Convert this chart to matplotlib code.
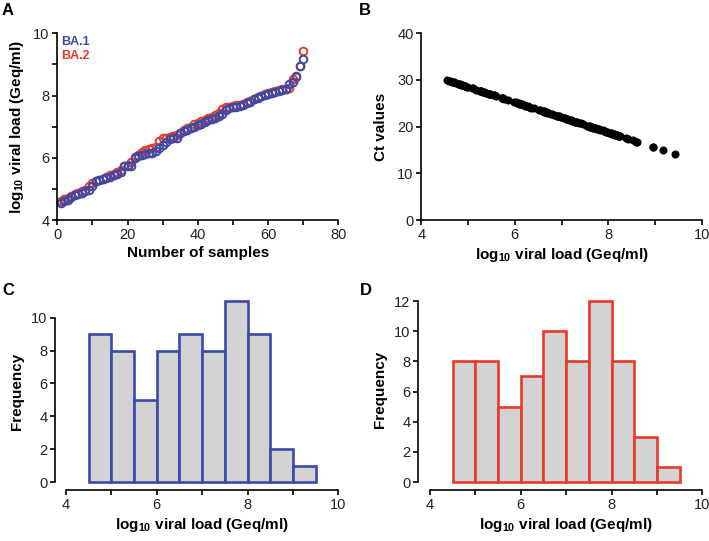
import numpy as np
import matplotlib
matplotlib.use("Agg")
import matplotlib.pyplot as plt
from matplotlib.ticker import FixedLocator

plt.rcParams['font.family'] = ['Liberation Sans', 'DejaVu Sans']
plt.rcParams['mathtext.fontset'] = 'custom'
plt.rcParams['mathtext.rm'] = 'Liberation Sans'
plt.rcParams['mathtext.bf'] = 'Liberation Sans:bold'

# sorted log10 viral loads per lineage (sample 1..70)
ba1_load = [4.55, 4.62, 4.65, 4.75, 4.80, 4.85, 4.88, 4.93, 4.98, 5.10,
            5.25, 5.28, 5.32, 5.35, 5.38, 5.45, 5.48, 5.55, 5.72, 5.73,
            5.74, 5.98, 6.05, 6.08, 6.12, 6.14, 6.15, 6.22, 6.30, 6.42,
            6.52, 6.60, 6.62, 6.63, 6.78, 6.85, 6.90, 6.95, 6.98, 7.05,
            7.10, 7.15, 7.20, 7.25, 7.28, 7.33, 7.42, 7.55, 7.60, 7.62,
            7.63, 7.65, 7.70, 7.75, 7.80, 7.88, 7.92, 7.97, 8.02, 8.05,
            8.08, 8.12, 8.15, 8.18, 8.22, 8.38, 8.42, 8.62, 8.95, 9.18]
ba2_load = [4.60, 4.68, 4.70, 4.78, 4.82, 4.88, 4.93, 4.97, 5.08, 5.18,
            5.25, 5.28, 5.33, 5.38, 5.45, 5.48, 5.55, 5.60, 5.72, 5.78,
            5.85, 6.02, 6.10, 6.20, 6.25, 6.28, 6.30, 6.35, 6.55, 6.62,
            6.65, 6.68, 6.70, 6.72, 6.80, 6.90, 6.95, 6.98, 7.08, 7.12,
            7.18, 7.22, 7.28, 7.32, 7.38, 7.45, 7.58, 7.62, 7.63, 7.65,
            7.68, 7.70, 7.73, 7.78, 7.83, 7.90, 7.95, 7.98, 8.05, 8.08,
            8.12, 8.15, 8.18, 8.20, 8.22, 8.25, 8.52, 8.60, 8.95, 9.43]

# Ct values matching the samples above
ba1_ct = [30.0, 29.7, 29.6, 29.3, 29.1, 29.0, 28.9, 28.7, 28.6, 28.2,
          27.7, 27.6, 27.5, 27.4, 27.3, 27.0, 26.9, 26.7, 26.2, 26.1,
          26.1, 25.3, 25.1, 25.0, 24.9, 24.8, 24.8, 24.5, 24.3, 23.9,
          23.6, 23.3, 23.3, 23.2, 22.7, 22.5, 22.3, 22.2, 22.1, 21.9,
          21.7, 21.5, 21.4, 21.2, 21.1, 21.0, 20.7, 20.2, 20.1, 20.0,
          20.0, 19.9, 19.8, 19.6, 19.4, 19.2, 19.0, 18.9, 18.7, 18.6,
          18.5, 18.4, 18.3, 18.2, 18.1, 17.5, 17.4, 16.8, 15.7, 15.0]
ba2_ct = [29.8, 29.5, 29.5, 29.2, 29.1, 28.9, 28.7, 28.6, 28.2, 27.9,
          27.7, 27.6, 27.4, 27.3, 27.0, 26.9, 26.7, 26.6, 26.2, 26.0,
          25.7, 25.2, 24.9, 24.6, 24.5, 24.4, 24.3, 24.1, 23.5, 23.3,
          23.2, 23.1, 23.0, 22.9, 22.7, 22.3, 22.2, 22.1, 21.8, 21.6,
          21.4, 21.3, 21.1, 21.0, 20.8, 20.6, 20.1, 20.0, 20.0, 19.9,
          19.8, 19.8, 19.7, 19.5, 19.3, 19.1, 18.9, 18.8, 18.6, 18.5,
          18.4, 18.3, 18.2, 18.1, 18.1, 18.0, 17.1, 16.8, 15.7, 14.2]

bins = np.arange(4.5, 9.51, 0.5)
blue = '#3b4aa6'
red = '#e63a2b'
W, H = 709, 541
vl_label = r'log$_{\mathbf{10}}$ viral load (Geq/ml)'


def px_axes(l, r, b, t):
    # pixel box -> figure fraction
    return fig.add_axes([l / W, 1 - b / H, (r - l) / W, (b - t) / H])


def style(ax):
    for s in ['top', 'right']:
        ax.spines[s].set_visible(False)
    for s in ['left', 'bottom']:
        ax.spines[s].set_linewidth(1.2)
    ax.tick_params(which='both', length=3.5, width=1.2, labelsize=10.5,
                   labelcolor='#222222', pad=2)


fig = plt.figure(figsize=(W / 100, H / 100), dpi=100)

# A
axA = px_axes(57.3, 338.3, 220, 33.3)
n = np.arange(1, len(ba1_load) + 1)
axA.plot(n, ba2_load, 'o', mfc='none', mec=red, ms=5.5, mew=1.4, clip_on=False)
axA.plot(n, ba1_load, 'o', mfc='none', mec=blue, ms=5.5, mew=1.4, clip_on=False)
axA.set_xlim(0, 80)
axA.set_ylim(4, 10)
axA.set_xticks([0, 20, 40, 60, 80])
axA.set_yticks([4, 6, 8, 10])
axA.xaxis.set_minor_locator(FixedLocator([10, 30, 50, 70]))
axA.yaxis.set_minor_locator(FixedLocator([5, 7, 9]))
style(axA)
axA.set_xlabel('Number of samples', fontsize=11, fontweight='bold', labelpad=3)
axA.set_ylabel(vl_label, fontsize=11, fontweight='bold', labelpad=5)
axA.text(0.015, 0.985, 'BA.1', color=blue, fontsize=9, fontweight='bold',
         transform=axA.transAxes, va='top')
axA.text(0.015, 0.91, 'BA.2', color=red, fontsize=9, fontweight='bold',
         transform=axA.transAxes, va='top')

# B
axB = px_axes(421.3, 701.7, 220, 33.3)
axB.plot(ba1_load + ba2_load, ba1_ct + ba2_ct, 'o', color='black', ms=4.8)
axB.set_xlim(4, 10)
axB.set_ylim(0, 40)
axB.set_xticks([4, 6, 8, 10])
axB.set_yticks([0, 10, 20, 30, 40])
axB.xaxis.set_minor_locator(FixedLocator([5, 7, 9]))
style(axB)
axB.set_xlabel(vl_label, fontsize=11, fontweight='bold', labelpad=3)
axB.set_ylabel('Ct values', fontsize=11, fontweight='bold', labelpad=7)

# C and D histograms
for data, col, l, r, ytop, yticks, yscale, sp in [
        (ba1_load, blue, 66, 338.3, 11.5, [0, 2, 4, 6, 8, 10], 16.43, 11),
        (ba2_load, red, 430, 702.3, 12.8, [0, 2, 4, 6, 8, 10, 12], 15.08, 12)]:
    bottom_val = -(490 - 482) / yscale
    top_px = 482 - ytop * yscale
    ax = px_axes(l, r, 490, top_px)
    ax.hist(data, bins=bins, facecolor='#d3d3d3', edgecolor=col, linewidth=1.9)
    ax.set_xlim(4, 10)
    ax.set_ylim(bottom_val, ytop)
    ax.set_xticks([4, 6, 8, 10])
    ax.xaxis.set_minor_locator(FixedLocator([5, 7, 9]))
    ax.set_yticks(yticks)
    style(ax)
    ax.spines['left'].set_bounds(yticks[0], yticks[-1])
    ax.spines['left'].set_position(('outward', sp * 0.72))
    ax.spines['bottom'].set_bounds(4, 10)
    ax.set_xlabel(vl_label, fontsize=11, fontweight='bold', labelpad=3)
    ax.set_ylabel('Frequency', fontsize=11, fontweight='bold', labelpad=5)

for lab, x, y in [('A', 2, 3), ('B', 359, 3), ('C', 2, 283), ('D', 360, 283)]:
    fig.text(x / W, 1 - y / H, lab, fontsize=12, fontweight='bold', va='top')

fig.savefig('out.png', dpi=100)
